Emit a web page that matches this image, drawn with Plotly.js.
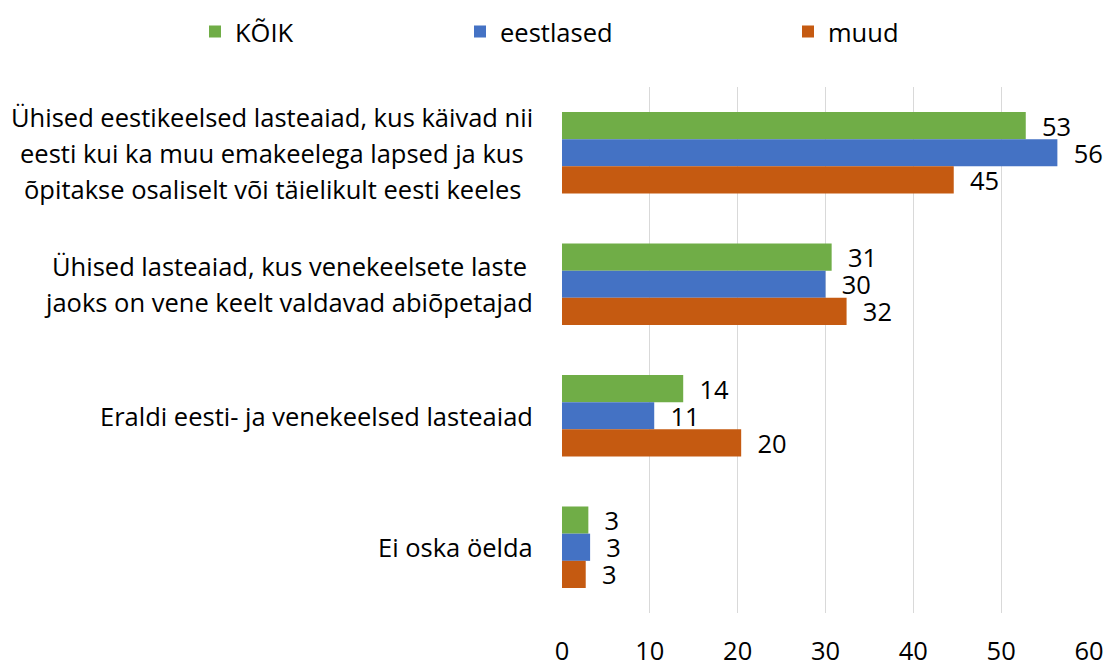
<!DOCTYPE html>
<html>
<head>
<meta charset="utf-8">
<script src="https://cdn.plot.ly/plotly-3.0.1.min.js"></script>
<style>html,body{margin:0;padding:0;background:#fff}#chart{width:1107px;height:661px}</style>
</head>
<body>
<div id="chart"></div>
<script>
var categories = [
  "Ühised eestikeelsed lasteaiad, kus käivad nii<br>eesti kui ka muu emakeelega lapsed ja kus<br>õpitakse osaliselt või täielikult eesti keeles",
  "Ühised lasteaiad, kus venekeelsete laste<br>jaoks on vene keelt valdavad abiõpetajad",
  "Eraldi eesti- ja venekeelsed lasteaiad",
  "Ei oska öelda"
];
var seriesNames = ["KÕIK", "eestlased", "muud"];
var koik = [52.8, 30.7, 13.8, 3.0];
var eestlased = [56.4, 30.0, 10.5, 3.2];
var muud = [44.6, 32.4, 20.4, 2.7];
var koikLabels = ["53", "31", "14", "3"];
var eestlasedLabels = ["56", "30", "11", "3"];
var muudLabels = ["45", "32", "20", "3"];
var xTicks = [0, 10, 20, 30, 40, 50, 60];

var FONT = "'Open Sans', 'Liberation Sans', Arial, sans-serif";
var FS = 25.5;
var colors = ["#70AD47", "#4472C4", "#C55A11"];
var values = [koik, eestlased, muud];
var labels = [koikLabels, eestlasedLabels, muudLabels];
var legendIds = ["legend", "legend2", "legend3"];

var traces = values.map(function (v, i) {
  return {
    type: "bar",
    orientation: "h",
    name: seriesNames[i],
    y: categories,
    x: v,
    text: labels[i],
    texttemplate: "\u00a0\u00a0%{text}",
    textposition: "outside",
    constraintext: "none",
    cliponaxis: false,
    textfont: {family: FONT, size: FS, color: "#000"},
    marker: {color: colors[i]},
    legend: legendIds[i],
    hoverinfo: "x+name"
  };
});

// measure line widths for centered multi-line category labels
var canvas = document.createElement("canvas");
var ctx = canvas.getContext("2d");
ctx.font = FS + "px 'Open Sans'";
var annotations = [];
var LINE = 36;
categories.forEach(function (cat) {
  var lines = cat.split("<br>");
  var widths = lines.map(function (l) { return ctx.measureText(l).width; });
  var blockW = Math.max.apply(null, widths);
  lines.forEach(function (l, i) {
    annotations.push({
      text: l, xref: "paper", x: 0, yref: "y", y: cat,
      xanchor: "right", yanchor: "middle",
      xshift: -28 - (blockW - widths[i]) / 2,
      yshift: ((lines.length - 1) / 2 - i) * LINE,
      showarrow: false, borderpad: 0,
      font: {family: FONT, size: FS, color: "#000"}
    });
  });
});

function leg(x) {
  return {
    orientation: "h", xref: "container", yref: "container",
    x: x / 1107, y: 1 - 32 / 661, xanchor: "left", yanchor: "middle",
    font: {family: FONT, size: FS, color: "#000"},
    bgcolor: "rgba(0,0,0,0)"
  };
}

var layout = {
  width: 1107, height: 661,
  margin: {l: 562, r: 18, t: 87, b: 48},
  paper_bgcolor: "#fff", plot_bgcolor: "#fff",
  barmode: "group", bargap: 0.38, bargroupgap: 0,
  showlegend: true,
  legend: leg(195), legend2: leg(460), legend3: leg(788),
  xaxis: {
    range: [0, 60], tickvals: xTicks, ticktext: xTicks.map(String),
    showgrid: true, gridcolor: "#D9D9D9", gridwidth: 1.3,
    zeroline: false, showline: false, ticks: "",
    ticklabelstandoff: 20,
    tickfont: {family: FONT, size: FS, color: "#000"},
    fixedrange: true
  },
  yaxis: {
    type: "category", autorange: "reversed",
    showticklabels: false, showgrid: false, zeroline: false, showline: false,
    ticks: "", fixedrange: true
  },
  annotations: annotations
};

Plotly.newPlot("chart", traces, layout, {displayModeBar: false, staticPlot: true});
</script>
</body>
</html>
